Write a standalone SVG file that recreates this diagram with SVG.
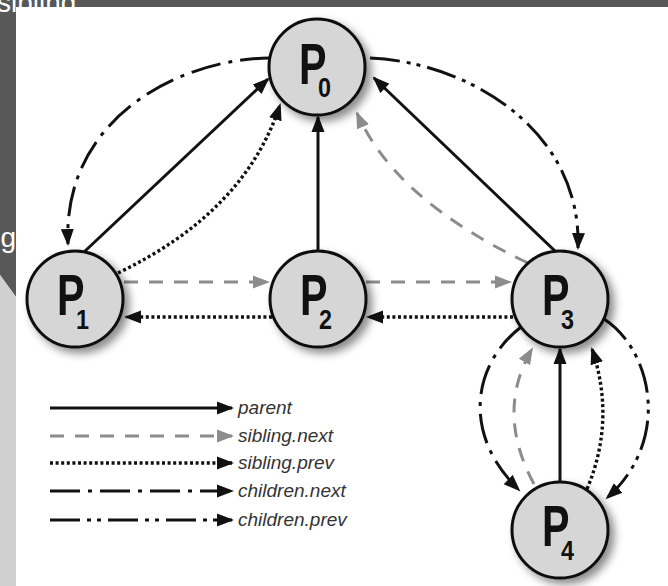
<svg xmlns="http://www.w3.org/2000/svg" width="668" height="586" viewBox="0 0 668 586">
<style>
.ln{fill:none;stroke-width:3;stroke-linecap:butt}
.parent{stroke:#111;marker-end:url(#ab)}
.snext{stroke:#8c8c8c;stroke-dasharray:14 11;marker-end:url(#ag)}
.sprev{stroke:#111;stroke-dasharray:3 2.6;stroke-width:3.4;marker-end:url(#ab)}
.cnext{stroke:#111;stroke-dasharray:30 8 4 8;marker-end:url(#ab)}
.cprev{stroke:#111;stroke-dasharray:30 7 4 6 4 7;marker-end:url(#ab)}
.node circle{fill:#d6d6d6;stroke:#111;stroke-width:3;filter:url(#sh)}
.P{font-family:'Liberation Sans',Arial,sans-serif;font-weight:bold;font-size:58px;fill:#111}
.sub{font-family:'Liberation Sans',Arial,sans-serif;font-weight:bold;font-size:28px;fill:#111}
.leg{font-family:'Liberation Sans',Arial,sans-serif;font-style:italic;font-size:19px;fill:#333}
</style>
<defs>
<marker id="ab" markerUnits="userSpaceOnUse" markerWidth="18" markerHeight="14" refX="15" refY="6.5" orient="auto" viewBox="0 0 18 13"><path d="M0,0 L17,6.5 L0,13 z" fill="#111"/></marker>
<marker id="ag" markerUnits="userSpaceOnUse" markerWidth="18" markerHeight="14" refX="15" refY="6.5" orient="auto" viewBox="0 0 18 13"><path d="M0,0 L17,6.5 L0,13 z" fill="#8c8c8c"/></marker>
<filter id="sh" x="-30%" y="-30%" width="170%" height="170%"><feDropShadow dx="5" dy="5" stdDeviation="4" flood-color="#000" flood-opacity="0.45"/></filter>
</defs>
<rect x="0" y="0" width="668" height="586" fill="#fff"/>
<g id="frame">
<rect x="0" y="0" width="668" height="7" fill="#585858"/>
<polygon points="0,0 16,0 16,297 0,275" fill="#585858"/>
<polygon points="0,275 16,297 16,586 0,586" fill="#d0d0d0"/>
<text x="-3" y="12" font-family="'Liberation Sans',Arial,sans-serif" font-size="28" fill="#fff">sibling</text>
<text x="16" y="247" text-anchor="end" font-family="'Liberation Sans',Arial,sans-serif" font-size="28" fill="#fff">g</text>
</g>
<g id="connectors">
<path class="ln parent" d="M84,252 L268,79"/>
<path class="ln sprev" d="M118,273 Q245,212 280,105"/>
<path class="ln cnext" d="M270,58 C185,58 62,115 68,244"/>
<path class="ln cprev" d="M370,58 C468,62 582,130 578,248"/>
<path class="ln parent" d="M555,251 L374,78"/>
<path class="ln snext" d="M528,263 Q395,200 357,113"/>
<path class="ln parent" d="M318,251 L318,117"/>
<path class="ln snext" d="M124,282 L268,282"/>
<path class="ln sprev" d="M272,317 L126,317"/>
<path class="ln snext" d="M366,282 L510,282"/>
<path class="ln sprev" d="M513,317 L368,317"/>
<path class="ln cnext" d="M521,327 C472,365 462,435 519,490"/>
<path class="ln snext" d="M534,484 Q495,412 532,349"/>
<path class="ln parent" d="M560,482 L560,349"/>
<path class="ln sprev" d="M587,489 Q616,420 592,349"/>
<path class="ln cprev" d="M604,319 C652,350 672,440 607,498"/>
</g>
<g id="P0" class="node"><circle cx="317" cy="67" r="48"/><text class="P" x="299" y="84" textLength="27.5" lengthAdjust="spacingAndGlyphs">P</text><text class="sub" x="318" y="97" textLength="13" lengthAdjust="spacingAndGlyphs">0</text></g>
<g id="P1" class="node"><circle cx="75" cy="299" r="48"/><text class="P" x="57" y="315" textLength="27.5" lengthAdjust="spacingAndGlyphs">P</text><text class="sub" x="76" y="329" textLength="13" lengthAdjust="spacingAndGlyphs">1</text></g>
<g id="P2" class="node"><circle cx="318" cy="299" r="48"/><text class="P" x="300" y="315" textLength="27.5" lengthAdjust="spacingAndGlyphs">P</text><text class="sub" x="319" y="329" textLength="13" lengthAdjust="spacingAndGlyphs">2</text></g>
<g id="P3" class="node"><circle cx="560" cy="299" r="48"/><text class="P" x="542" y="315" textLength="27.5" lengthAdjust="spacingAndGlyphs">P</text><text class="sub" x="561" y="329" textLength="13" lengthAdjust="spacingAndGlyphs">3</text></g>
<g id="P4" class="node"><circle cx="560" cy="530" r="48"/><text class="P" x="542" y="546" textLength="27.5" lengthAdjust="spacingAndGlyphs">P</text><text class="sub" x="561" y="560" textLength="13" lengthAdjust="spacingAndGlyphs">4</text></g>
<g id="legend">
<path class="ln parent" d="M50,408 L232,408"/>
<path class="ln snext" d="M50,436 L232,436"/>
<path class="ln sprev" d="M50,463 L232,463"/>
<path class="ln cnext" d="M50,491 L232,491"/>
<path class="ln cprev" d="M50,520 L232,520"/>
<text class="leg" x="238" y="414">parent</text>
<text class="leg" x="238" y="442">sibling.next</text>
<text class="leg" x="238" y="469">sibling.prev</text>
<text class="leg" x="238" y="497">children.next</text>
<text class="leg" x="238" y="526">children.prev</text>
</g>
</svg>
